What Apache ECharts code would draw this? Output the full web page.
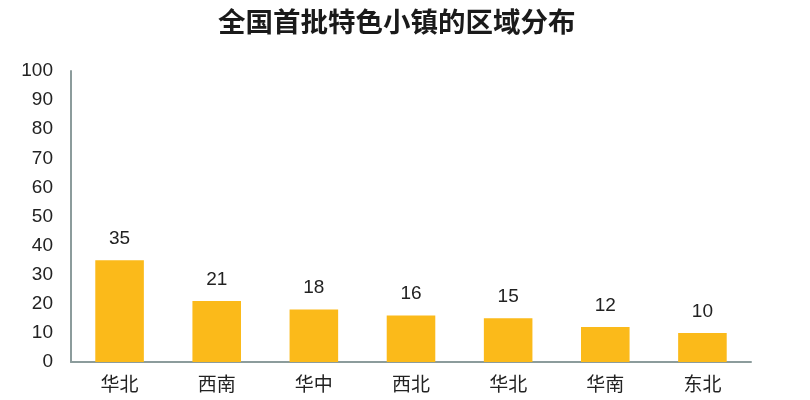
<!DOCTYPE html>
<html><head><meta charset="utf-8">
<script src="https://cdn.jsdelivr.net/npm/echarts@6/dist/echarts.min.js"></script>
<style>html,body{margin:0;padding:0;background:#fff}#c{width:810px;height:400px}</style>
</head><body><div id="c"></div>
<script>
const titleText = '全国首批特色小镇的区域分布';
const categories = ['华北', '西南', '华中', '西北', '华北', '华南', '东北'];
const values = [35, 21, 18, 16, 15, 12, 10];
const yTicks = { min: 0, max: 100, interval: 10 };

const chart = echarts.init(document.getElementById('c'));
chart.setOption({
  animation: false,
  title: {
    text: titleText, left: 213, top: 3,
    textStyle: { fontFamily: 'Noto Sans CJK SC', fontSize: 27.5, fontWeight: 'bold', color: '#1a1a1a' }
  },
  grid: { left: 71, right: 59, top: 71, bottom: 38, containLabel: false },
  xAxis: {
    type: 'category', data: categories,
    axisLine: { show: true, lineStyle: { color: '#8c9c9c', width: 2 } },
    axisTick: { show: false },
    axisLabel: { fontFamily: 'Noto Sans CJK SC', fontSize: 19, color: '#222', margin: 12 }
  },
  yAxis: {
    type: 'value', min: yTicks.min, max: yTicks.max, interval: yTicks.interval,
    axisLine: { show: true, lineStyle: { color: '#8c9c9c', width: 2 } },
    axisTick: { show: false },
    splitLine: { show: false },
    axisLabel: { fontFamily: 'Liberation Sans', fontSize: 19, color: '#222', margin: 18 }
  },
  series: [{
    type: 'bar', data: values, barWidth: '50%',
    itemStyle: { color: '#fbba1a' },
    label: { show: true, position: 'top', distance: 12, fontFamily: 'Liberation Sans', fontSize: 19, color: '#222' }
  }]
});
</script></body></html>
